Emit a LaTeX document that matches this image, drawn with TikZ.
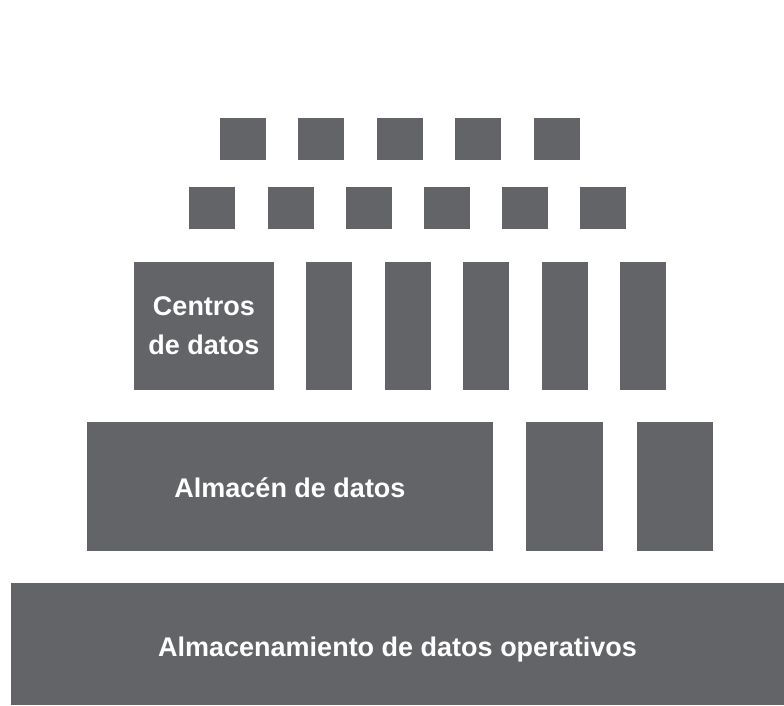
\documentclass[tikz,border=0pt]{standalone}
\usepackage{fontspec}
\setmainfont{Liberation Sans}
\usepackage{tikz}
\definecolor{blockgray}{RGB}{99,100,104}

\tikzset{
  blk/.style={fill=blockgray, draw=none, inner sep=0pt, outer sep=0pt,
    text=white, align=center, font=\bfseries\fontsize{27}{39}\selectfont},
}

\begin{document}
\begin{tikzpicture}[x=1pt, y=-1pt]
  \useasboundingbox (0,0) rectangle (784,705);
  % top rows of small squares
  \foreach \i in {0,...,4}
    \node[blk, minimum width=46pt, minimum height=42pt] (a-\i) at ({243+78.4*\i},139) {};
  \foreach \i in {0,...,5}
    \node[blk, minimum width=46pt, minimum height=42pt] (b-\i) at ({212.3+78.2*\i},208.4) {};
  % data marts
  \node[blk, minimum width=140pt, minimum height=128.3pt] (marts) at (204,325.8) {Centros\\de datos};
  \foreach \i in {0,...,4}
    \node[blk, minimum width=46pt, minimum height=128.3pt] (c-\i) at ({329+78.5*\i},325.8) {};
  % warehouse
  \node[blk, minimum width=406.6pt, minimum height=128.4pt, text height=21pt, text depth=0pt] (dw) at (290,486.5) {Almac\'en de datos};
  \node[blk, minimum width=77pt, minimum height=128.4pt] (d-1) at (564.5,486.5) {};
  \node[blk, minimum width=76.6pt, minimum height=128.4pt] (d-2) at (675,486.5) {};
  % operational store
  \node[blk, minimum width=773pt, minimum height=121.7pt, text height=25pt, text depth=0pt] (ods) at (397.5,644.2) {Almacenamiento de datos operativos};
\end{tikzpicture}
\end{document}
